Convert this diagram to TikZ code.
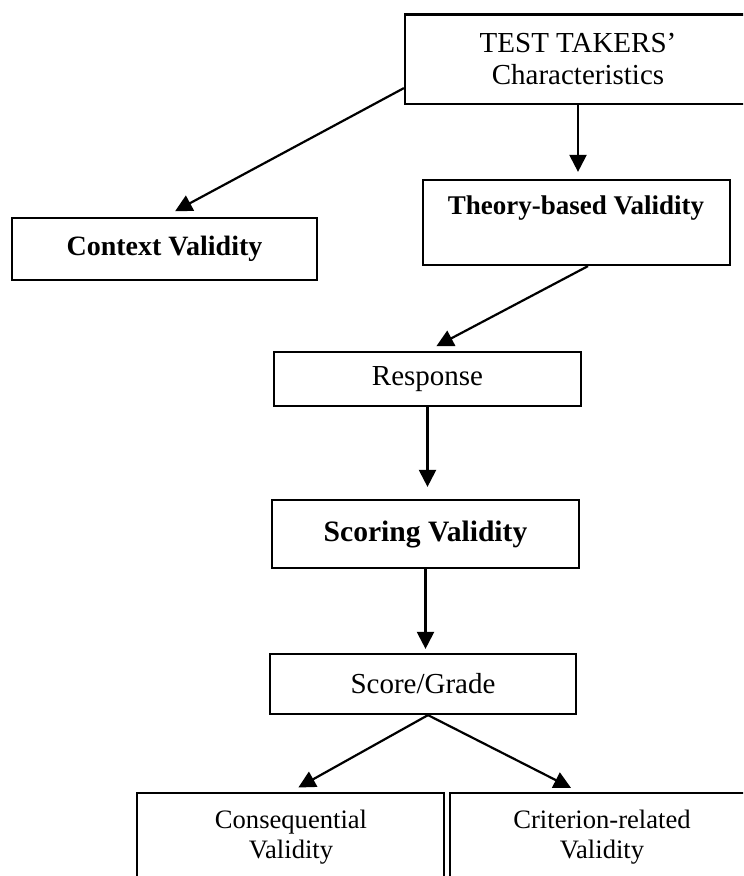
\documentclass[tikz,border=0pt]{standalone}
\usepackage{fontspec}
\setmainfont{Liberation Serif}
\usetikzlibrary{arrows.meta,calc}
\begin{document}
\begin{tikzpicture}[x=0.5pt,y=-0.5pt,
  box/.style={draw,line width=1.1pt,rectangle,inner sep=0pt},
  arr/.style={line width=1.1pt,-{Triangle[length=8.5pt,width=8.5pt]}},
  lbl/.style={font=\fontsize{14.5}{16}\selectfont,align=center},
  blbl/.style={font=\fontsize{14}{16}\selectfont\bfseries,align=center},
  slbl/.style={font=\fontsize{13.3}{15}\selectfont,align=center,inner sep=0pt}]
\useasboundingbox (0,0) rectangle (743,876);
\clip (0,0) rectangle (743,876);
% boxes
\node[box,lbl,minimum width=173pt,minimum height=44.75pt] (tt) at (578,59.25) {TEST TAKERS’\\Characteristics};
\node[box,blbl,minimum width=152.5pt,minimum height=31pt] (cv) at (164.5,249) {Context Validity};
\node[box,minimum width=153.5pt,minimum height=42.5pt] (tb) at (576.5,222.5) {};
\node[blbl,font=\fontsize{13.5}{16}\selectfont\bfseries,inner sep=0pt] (tbl) at (576,208) {Theory-based Validity};
\node[box,lbl,minimum width=153.5pt,minimum height=27pt] (rs) at (427.5,379) {Response};
\node[box,blbl,font=\fontsize{14.8}{16}\selectfont\bfseries,minimum width=153.5pt,minimum height=34pt] (sv) at (425.5,534) {Scoring Validity};
\node[box,lbl,minimum width=153pt,minimum height=30pt] (sg) at (423,684) {Score/Grade};
\node[box,minimum width=153.5pt,minimum height=56pt] (cq) at (290.5,849) {};
\node[slbl] (cql) at (291,837) {Consequential\\Validity};
\node[box,minimum width=153pt,minimum height=56pt] (cr) at (603,849) {};
\node[slbl] (crl) at (602,837) {Criterion-related\\Validity};
% connectors
\draw[arr,shorten >=3.5pt] (tt.south) -- (tt.south |- tb.north);
\draw[arr,shorten >=6pt] ($(tt.south west)+(0,-17)$) -- (cv.north);
\draw[arr,shorten >=5pt] ($(tb.south)+(11.5,0)$) -- (rs.north);
\draw[arr,shorten >=6pt] (rs.south) -- (rs.south |- sv.north);
\draw[arr,shorten >=2pt] (sv.south) -- (sv.south |- sg.north);
\coordinate (sgo) at ($(sg.south)+(5,0)$);
\draw[arr,shorten >=4.5pt] (sgo) -- (cq.north);
\draw[arr,shorten >=4.5pt] (sgo) -- ($(cr.north)+(-24,0)$);
\end{tikzpicture}
\end{document}
